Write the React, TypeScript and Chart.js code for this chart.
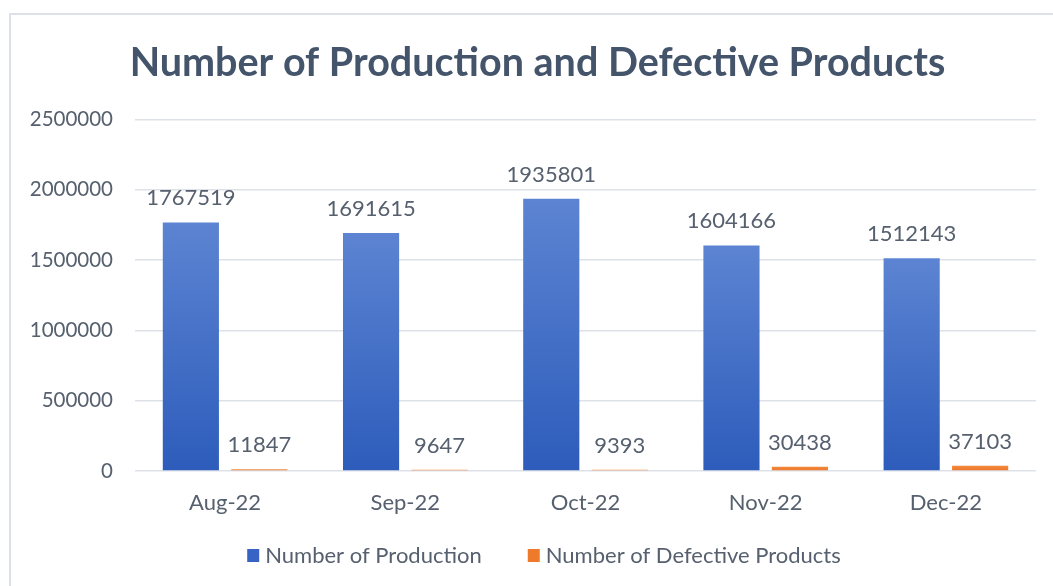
import React, { useEffect, useRef } from "react";
import { Chart, registerables } from "chart.js";

Chart.register(...registerables);

const categories = ["Aug-22", "Sep-22", "Oct-22", "Nov-22", "Dec-22"];
const production = [1767519, 1691615, 1935801, 1604166, 1512143];
const defective = [11847, 9647, 9393, 30438, 37103];
const seriesNames = ["Number of Production", "Number of Defective Products"];
const titleText = "Number of Production and Defective Products";
const yTickValues = [0, 500000, 1000000, 1500000, 2000000, 2500000];

const FONT = "Lato, 'Open Sans', sans-serif";
const TEXT = "#56606E";
const legendColors = ["#3763C4", "#EE7A2C"];

function gradientFill(top: string, bottom: string, solid: string) {
  return (c: any) => {
    const chart = c.chart;
    if (c.type !== "data" || !chart.chartArea) return solid;
    const y = chart.scales.y;
    const yTop = y.getPixelForValue(c.raw);
    const yBase = y.getPixelForValue(0);
    if (!isFinite(yTop) || !isFinite(yBase) || yBase - yTop < 1) return solid;
    const g = chart.ctx.createLinearGradient(0, yTop, 0, yBase);
    g.addColorStop(0, top);
    g.addColorStop(1, bottom);
    return g;
  };
}

const valueLabels = {
  id: "valueLabels",
  afterDatasetsDraw(chart: any) {
    const ctx = chart.ctx;
    ctx.save();
    ctx.font = `22px ${FONT}`;
    ctx.fillStyle = TEXT;
    ctx.textAlign = "center";
    ctx.textBaseline = "alphabetic";
    chart.data.datasets.forEach((ds: any, i: number) => {
      const meta = chart.getDatasetMeta(i);
      meta.data.forEach((el: any, j: number) => {
        ctx.fillText(String(ds.data[j]), el.x, el.y - 17);
      });
    });
    ctx.restore();
  },
};

// center the title over the whole frame (as in the reference)
const titleShift = {
  id: "titleShift",
  afterLayout(chart: any) {
    const t = chart.titleBlock;
    if (t) {
      t.left = 39;
      t.right = chart.width - 17;
    }
  },
};

// bottom legend with the reference's spacing
const bottomLegend = {
  id: "bottomLegend",
  afterDraw(chart: any) {
    const ctx = chart.ctx;
    ctx.save();
    ctx.font = `22px ${FONT}`;
    const box = 12;
    const boxGap = 6;
    const itemGap = 46;
    const names = chart.data.datasets.map((d: any) => d.label);
    const widths = names.map((n: string) => ctx.measureText(n).width);
    const total = widths.reduce((a: number, w: number) => a + box + boxGap + w, 0) + itemGap * (names.length - 1);
    let x = 544 - total / 2;
    const cy = 555;
    names.forEach((n: string, i: number) => {
      ctx.fillStyle = legendColors[i];
      ctx.fillRect(x, cy - 6, box, 13);
      ctx.fillStyle = TEXT;
      ctx.textAlign = "left";
      ctx.textBaseline = "middle";
      ctx.fillText(n, x + box + boxGap, cy + 1);
      x += box + boxGap + widths[i] + itemGap;
    });
    ctx.restore();
  },
};

export default function App() {
  const ref = useRef<HTMLCanvasElement>(null);
  useEffect(() => {
    document.body.style.margin = "0";
    const canvas = ref.current!;
    const chart = new Chart(canvas, {
      type: "bar",
      data: {
        labels: categories,
        datasets: [
          {
            label: seriesNames[0],
            data: production,
            backgroundColor: gradientFill("#5C84D2", "#2D5CBB", "#3A67C6"),
            categoryPercentage: 0.76,
            barPercentage: 0.82,
          },
          {
            label: seriesNames[1],
            data: defective,
            backgroundColor: gradientFill("#F28A3E", "#EC7426", "#EE7A2C"),
            categoryPercentage: 0.76,
            barPercentage: 0.82,
          },
        ],
      },
      options: {
        animation: false,
        responsive: false,
        maintainAspectRatio: false,
        layout: { padding: { left: 0, right: 17, top: 0, bottom: 62 } },
        plugins: {
          title: {
            display: true,
            text: titleText,
            color: "#44546A",
            font: { family: FONT, size: 39.5, weight: "bold" },
            padding: { top: 40, bottom: 32 },
          },
          legend: { display: false },
          tooltip: { enabled: false },
        },
        scales: {
          x: {
            grid: { display: false, drawTicks: false },
            border: { display: false },
            ticks: { color: TEXT, font: { family: FONT, size: 22 }, padding: 19 },
            afterFit: (s: any) => {
              s.height = 53;
            },
          },
          y: {
            min: 0,
            max: 2500000,
            grid: { color: "#DDE2E9", lineWidth: 1.5, drawTicks: false },
            border: { display: false },
            ticks: {
              color: TEXT,
              font: { family: FONT, size: 20.5 },
              padding: 22,
              stepSize: 500000,
              callback: (v: any) => (yTickValues.includes(v) ? String(v) : ""),
            },
            afterFit: (s: any) => {
              s.width = 135;
            },
          },
        },
      },
      plugins: [valueLabels, titleShift, bottomLegend],
    });
    return () => chart.destroy();
  }, []);

  return (
    <div style={{ position: "fixed", left: 0, top: 0, width: 1053, height: 586, overflow: "hidden", background: "#fff" }}>
      <div
        style={{
          position: "absolute",
          left: 9,
          top: 13,
          width: 1200,
          height: 800,
          border: "2px solid #DCE1E8",
          boxSizing: "border-box",
        }}
      />
      <canvas ref={ref} width={1053} height={586} style={{ position: "absolute", left: 0, top: 0, width: 1053, height: 586 }} />
    </div>
  );
}
